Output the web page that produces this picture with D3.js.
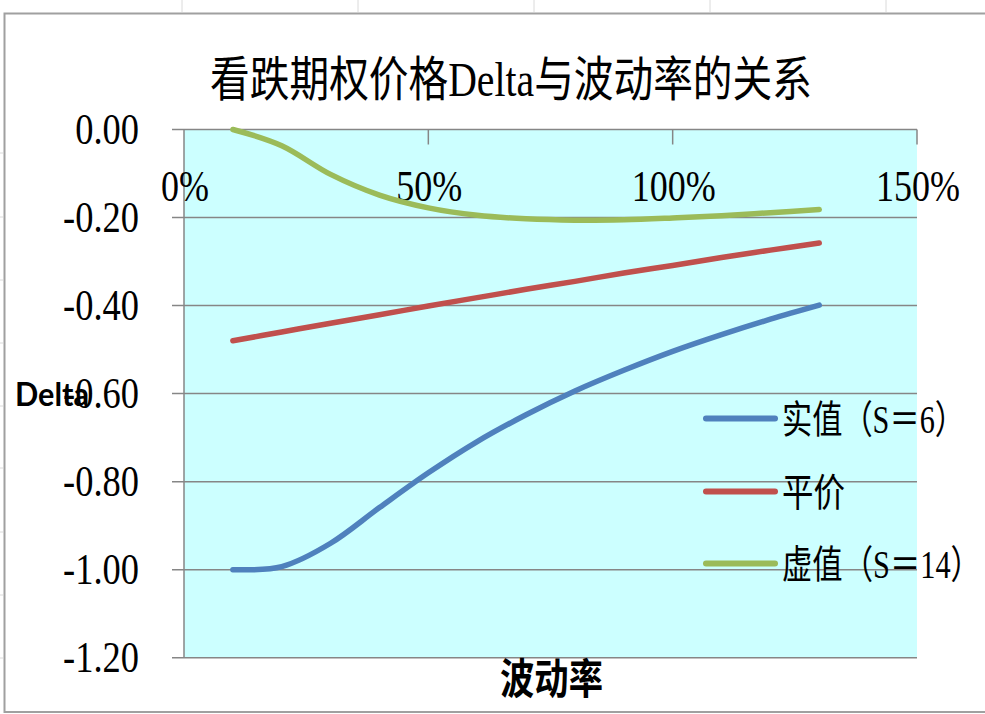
<!DOCTYPE html>
<html><head><meta charset="utf-8">
<script src="https://cdn.jsdelivr.net/npm/d3@7"></script>
<style>
html,body{margin:0;padding:0;background:#fff;}
svg{display:block;}
</style></head>
<body>
<svg id="chart" width="985" height="714"></svg>
<script>
// ---- data ----
const volatility = [0.1,0.2,0.3,0.4,0.5,0.6,0.7,0.8,0.9,1.0,1.1,1.2,1.3];
const itmDelta = [-1.000,-0.993,-0.940,-0.859,-0.780,-0.709,-0.648,-0.594,-0.547,-0.504,-0.466,-0.431,-0.399];
const atmDelta = [-0.480,-0.460,-0.440,-0.421,-0.401,-0.382,-0.363,-0.345,-0.326,-0.309,-0.291,-0.274,-0.258];
const otmDelta = [-0.000,-0.037,-0.102,-0.149,-0.178,-0.195,-0.203,-0.206,-0.205,-0.201,-0.196,-0.189,-0.182];
const seriesNames = ["实值（S＝6）","平价","虚值（S＝14）"];
const xTicks = [0,0.5,1.0,1.5];
const xTickLabels = ["0%","50%","100%","150%"];
const yTicks = [0,-0.2,-0.4,-0.6,-0.8,-1.0,-1.2];
const yTickLabels = ["0.00","-0.20","-0.40","-0.60","-0.80","-1.00","-1.20"];
const titleText = "看跌期权价格Delta与波动率的关系";
const xTitle = "波动率";
const yTitle = "Delta";

const colors = ["#4f81bd","#c0504d","#9bbb59"];
const seriesData = [itmDelta, atmDelta, otmDelta];

const svg = d3.select("#chart");
const x = d3.scaleLinear().domain([0,1.5]).range([184,917]);
const y = d3.scaleLinear().domain([0,-1.2]).range([129.5,657.7]);
const axisColor = "#868686";
const serif = "'Liberation Serif','Noto Sans CJK SC',serif";

// place a text at (px,py) and squeeze horizontally: either by factor k or to a target width w
function placeText(sel, px, py, k, w){
  sel.each(function(d,i){
    const t = d3.select(this);
    const nat = this.getComputedTextLength();
    const X = typeof px === "function" ? px(d,i) : px;
    const Y = typeof py === "function" ? py(d,i) : py;
    let kk = k;
    if (w !== undefined && w !== null){
      const W = typeof w === "function" ? w(d,i) : w;
      kk = W / nat;
    }
    t.attr("x",0).attr("y",0).attr("transform",`translate(${X},${Y}) scale(${kk},1)`);
  });
}

// spreadsheet cell lines outside chart
const cellX = [182,358,534,710,886];
svg.selectAll("line.cellTop").data(cellX).join("line")
  .attr("x1",d=>d).attr("x2",d=>d).attr("y1",0).attr("y2",12)
  .attr("stroke","#dadada").attr("stroke-width",1);
svg.selectAll("line.cellLeft").data([153,217,280,343,406,468,532,595,658]).join("line")
  .attr("x1",0).attr("x2",3).attr("y1",d=>d).attr("y2",d=>d)
  .attr("stroke","#dadada");

// chart border
svg.append("path")
  .attr("d","M4.5,713 L4.5,13.5 L990,13.5")
  .attr("fill","none").attr("stroke","#a0a0a0").attr("stroke-width",2);
svg.append("line").attr("x1",4).attr("x2",990).attr("y1",712).attr("y2",712)
  .attr("stroke","#a0a0a0").attr("stroke-width",2);

// plot background
svg.append("rect")
  .attr("x",x(0)).attr("y",y(0))
  .attr("width",x(1.5)-x(0)).attr("height",y(-1.2)-y(0))
  .attr("fill","#ccffff");

// gridlines + y ticks
svg.selectAll("line.grid").data(yTicks).join("line")
  .attr("class","grid")
  .attr("x1",172).attr("x2",x(1.5))
  .attr("y1",d=>y(d)).attr("y2",d=>y(d))
  .attr("stroke",axisColor).attr("stroke-width",1.5);

// y axis line
svg.append("line").attr("x1",x(0)).attr("x2",x(0))
  .attr("y1",y(0)).attr("y2",y(-1.2))
  .attr("stroke",axisColor).attr("stroke-width",1.5);

// x axis ticks (inside, downward from top axis)
svg.selectAll("line.xtick").data(xTicks.slice(1)).join("line")
  .attr("x1",d=>x(d)).attr("x2",d=>x(d))
  .attr("y1",y(0)).attr("y2",y(0)+15)
  .attr("stroke",axisColor).attr("stroke-width",1.5);

// y tick labels
const yl = svg.selectAll("text.ytl").data(yTicks).join("text")
  .attr("text-anchor","end")
  .attr("font-family",serif).attr("font-size",45).attr("fill","#000")
  .text((d,i)=>yTickLabels[i]);
placeText(yl, 139, d=>y(d)+14, 0.81);

// x tick labels
const xl = svg.selectAll("text.xtl").data(xTicks).join("text")
  .attr("text-anchor","middle")
  .attr("font-family",serif).attr("font-size",45).attr("fill","#000")
  .text((d,i)=>xTickLabels[i]);
placeText(xl, d=>x(d)+1, 201, 0.8);

// series lines
const line = d3.line().curve(d3.curveCardinal.tension(0))
  .x((d,i)=>x(volatility[i])).y(d=>y(d));
svg.selectAll("path.series").data(seriesData).join("path")
  .attr("d",d=>line(d))
  .attr("fill","none")
  .attr("stroke",(d,i)=>colors[i])
  .attr("stroke-width",5.5)
  .attr("stroke-linecap","round").attr("stroke-linejoin","round");

// title
const tt = svg.append("text")
  .attr("text-anchor","middle")
  .attr("font-family",serif).attr("font-size",48).attr("fill","#000")
  .text(titleText);
placeText(tt, 511, 96, null, 602);

// axis titles
const yt = svg.append("text")
  .attr("font-family","Lato,'Noto Sans',sans-serif").attr("font-weight","bold")
  .attr("font-size",33).attr("fill","#000")
  .text(yTitle);
placeText(yt, 15, 406, null, 74);
const xt = svg.append("text")
  .attr("font-family","'Noto Sans CJK SC',sans-serif").attr("font-weight","bold")
  .attr("font-size",42).attr("fill","#000")
  .text(xTitle);
placeText(xt, 500, 694, null, 103);

// legend
const legY = [418.5,491.5,563.5];
const legW = [183,63,199];
const leg = svg.selectAll("g.leg").data(seriesNames).join("g")
  .attr("transform",(d,i)=>`translate(0,${legY[i]})`);
leg.append("line").attr("x1",706).attr("x2",775).attr("y1",0).attr("y2",0)
  .attr("stroke",(d,i)=>colors[i]).attr("stroke-width",6).attr("stroke-linecap","round");
const lt = leg.append("text")
  .attr("font-family",serif).attr("font-size",39).attr("fill","#000")
  .text(d=>d);
placeText(lt, 782, 14, null, (d,i)=>legW[i]);
</script>
</body></html>
